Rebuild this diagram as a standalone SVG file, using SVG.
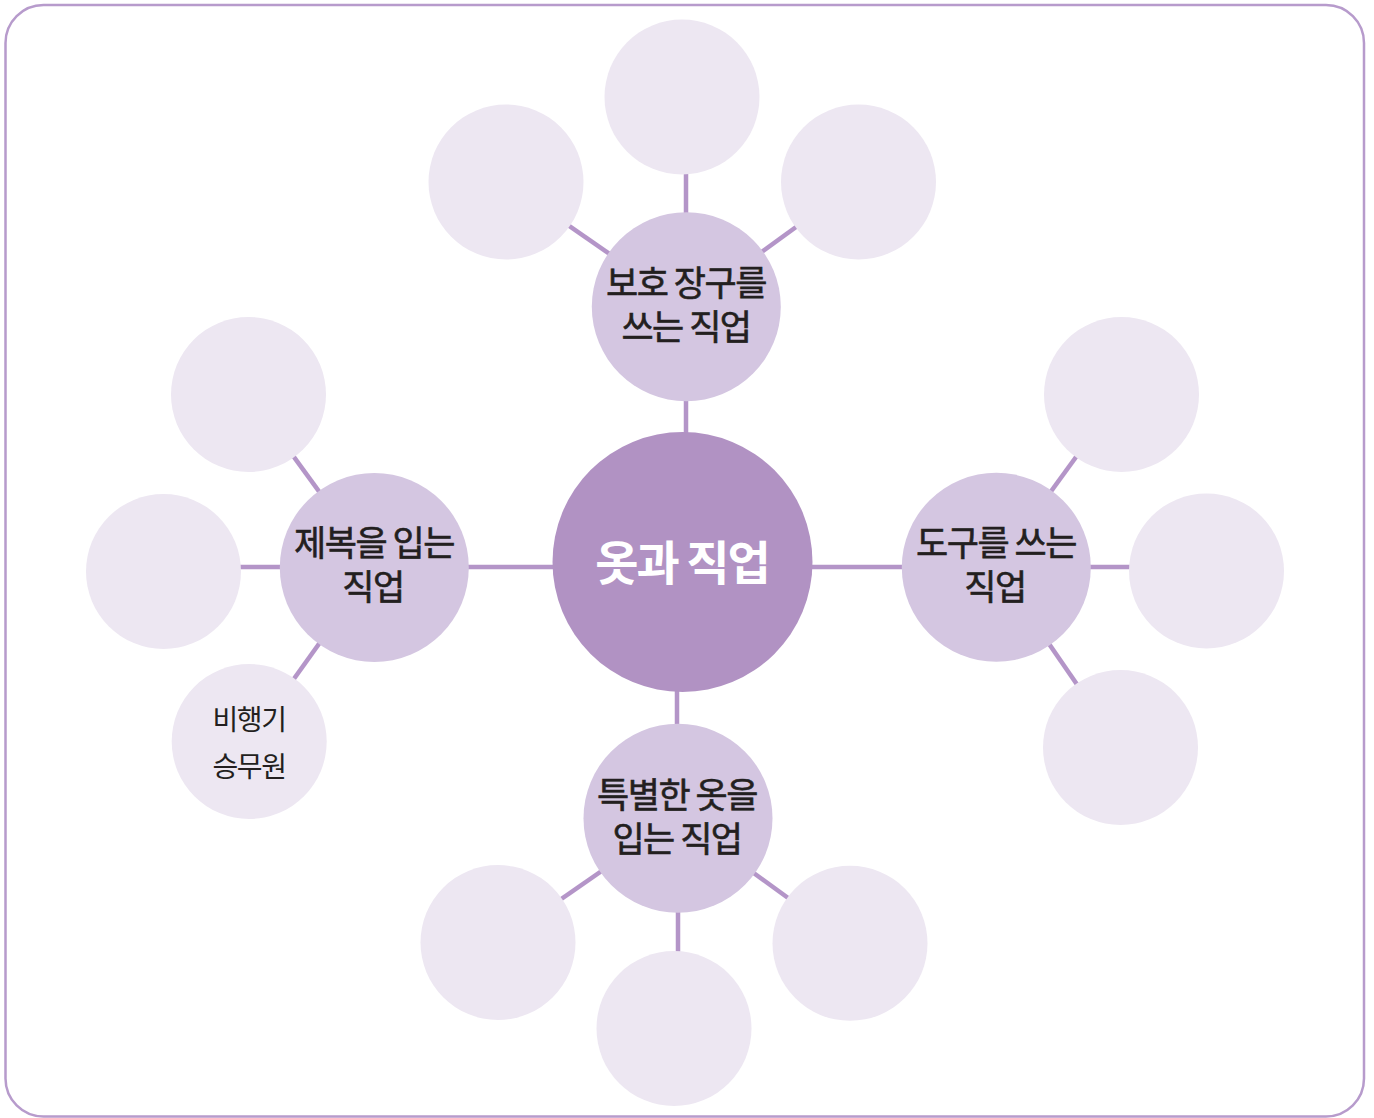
<svg xmlns="http://www.w3.org/2000/svg" width="1374" height="1118" viewBox="0 0 1374 1118">
<style>
.frame{fill:#ffffff;stroke:#b79bcc;stroke-width:2.5}
.conn line{stroke:#b495c8;stroke-width:4.5}
.hub{fill:#b192c3}
.mid{fill:#d4c6e1}
.leaf{fill:#ede7f2}
.t{font-family:"Noto Sans CJK KR","Noto Sans CJK SC",sans-serif;text-anchor:middle;fill:#231f20}
.tm{font-size:35px;font-weight:400;letter-spacing:-1.5px;stroke:#231f20;stroke-width:0.6px}
.th{font-size:47px;font-weight:700;fill:#ffffff;letter-spacing:-2px}
.tl{font-size:28px;font-weight:400;letter-spacing:-1.5px}
</style>
<rect class="frame" x="5.5" y="5" width="1358.5" height="1111.5" rx="38" ry="38"/>
<g id="connectors" class="conn">
<line x1="686" y1="307" x2="686" y2="562"/>
<line x1="677" y1="562" x2="677" y2="818"/>
<line x1="374" y1="567" x2="996" y2="567"/>
<line x1="686" y1="307" x2="506" y2="182"/>
<line x1="686" y1="307" x2="686" y2="97"/>
<line x1="686" y1="307" x2="858" y2="182"/>
<line x1="374" y1="567" x2="248.5" y2="394.5"/>
<line x1="374" y1="567" x2="163.5" y2="567"/>
<line x1="374" y1="567" x2="249" y2="741.5"/>
<line x1="996" y1="567" x2="1121.5" y2="394.5"/>
<line x1="996" y1="567" x2="1206.5" y2="567"/>
<line x1="996" y1="567" x2="1120.5" y2="747.5"/>
<line x1="678" y1="818" x2="498" y2="943"/>
<line x1="678" y1="818" x2="678" y2="1029"/>
<line x1="678" y1="818" x2="850" y2="943"/>
</g>
<g id="hub"><circle class="hub" cx="682.5" cy="562" r="130"/><text class="t th" x="682" y="580">옷과 직업</text></g>
<g id="mid-top"><circle class="mid" cx="686.3" cy="306.7" r="94.5"/><text class="t tm"><tspan x="686" y="296">보호 장구를</tspan><tspan x="686" y="340">쓰는 직업</tspan></text></g>
<g id="mid-left"><circle class="mid" cx="374.3" cy="567.5" r="94.5"/><text class="t tm"><tspan x="374" y="556">제복을 입는</tspan><tspan x="373" y="600">직업</tspan></text></g>
<g id="mid-right"><circle class="mid" cx="996.3" cy="567.3" r="94.5"/><text class="t tm"><tspan x="996" y="556">도구를 쓰는</tspan><tspan x="995" y="600">직업</tspan></text></g>
<g id="mid-bottom"><circle class="mid" cx="678" cy="818.3" r="94.5"/><text class="t tm"><tspan x="677" y="808">특별한 옷을</tspan><tspan x="677" y="852">입는 직업</tspan></text></g>
<g id="leaf-t1"><circle class="leaf" cx="506" cy="182" r="77.5"/></g>
<g id="leaf-t2"><circle class="leaf" cx="682" cy="97" r="77.5"/></g>
<g id="leaf-t3"><circle class="leaf" cx="858.5" cy="182" r="77.5"/></g>
<g id="leaf-l1"><circle class="leaf" cx="248.5" cy="394.5" r="77.5"/></g>
<g id="leaf-l2"><circle class="leaf" cx="163.5" cy="571.5" r="77.5"/></g>
<g id="leaf-l3"><circle class="leaf" cx="249.2" cy="741.5" r="77.5"/><text class="t tl"><tspan x="249" y="730">비행기</tspan><tspan x="249" y="777">승무원</tspan></text></g>
<g id="leaf-r1"><circle class="leaf" cx="1121.5" cy="394.5" r="77.5"/></g>
<g id="leaf-r2"><circle class="leaf" cx="1206.5" cy="571" r="77.5"/></g>
<g id="leaf-r3"><circle class="leaf" cx="1120.5" cy="747.5" r="77.5"/></g>
<g id="leaf-b1"><circle class="leaf" cx="498" cy="942.5" r="77.5"/></g>
<g id="leaf-b2"><circle class="leaf" cx="674" cy="1028.5" r="77.5"/></g>
<g id="leaf-b3"><circle class="leaf" cx="850" cy="943.3" r="77.5"/></g>
</svg>
